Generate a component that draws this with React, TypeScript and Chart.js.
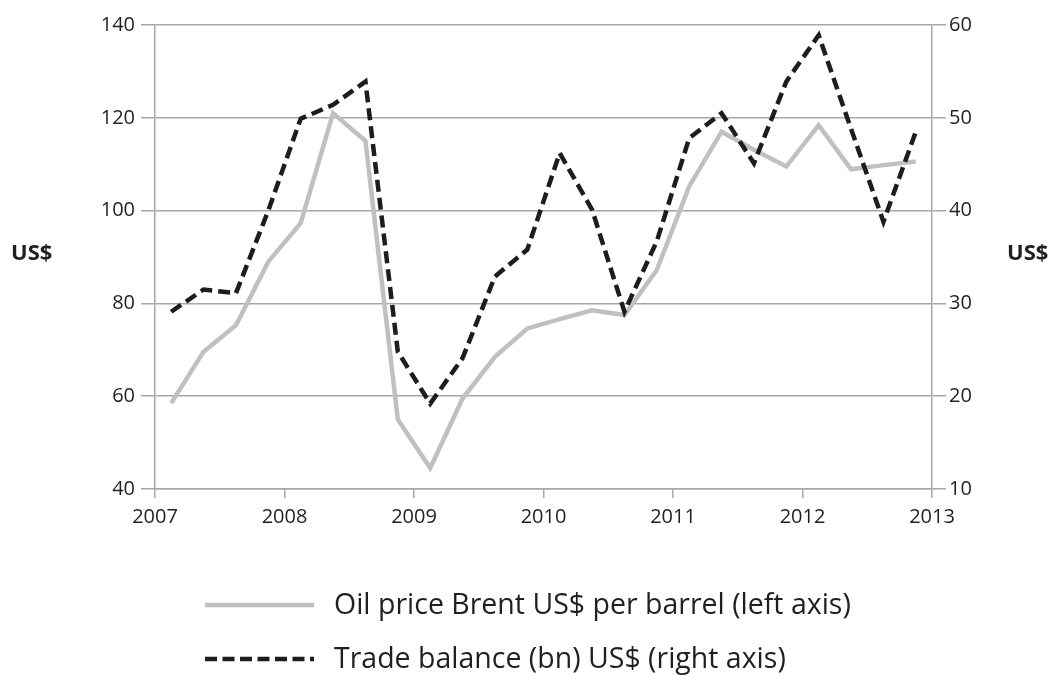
import React, { useEffect, useRef } from "react";
import { Chart, registerables } from "chart.js";

Chart.register(...registerables);

// Quarterly observation times (mid-quarter, in years)
const quarterTimes = [
  2007.125, 2007.375, 2007.625, 2007.875,
  2008.125, 2008.375, 2008.625, 2008.875,
  2009.125, 2009.375, 2009.625, 2009.875,
  2010.125, 2010.375, 2010.625, 2010.875,
  2011.125, 2011.375, 2011.625, 2011.875,
  2012.125, 2012.375, 2012.625, 2012.875,
];

// Oil price Brent US$ per barrel (left axis)
const oilPrice = [
  58.5, 69.6, 75.3, 89.0,
  97.3, 121.0, 115.0, 55.0,
  44.5, 59.5, 68.5, 74.6,
  76.6, 78.5, 77.5, 87.2,
  105.2, 117.0, 113.1, 109.5,
  118.4, 108.9, 109.8, 110.6,
];

// Trade balance (bn) US$ (right axis)
const tradeBalance = [
  29.1, 31.5, 31.1, 40.0,
  49.9, 51.4, 53.9, 24.8,
  19.2, 24.1, 32.9, 35.8,
  46.2, 40.1, 29.1, 36.7,
  47.8, 50.5, 45.1, 53.9,
  58.9, 48.8, 38.8, 48.5,
];

const xTicks = [2007, 2008, 2009, 2010, 2011, 2012, 2013];
const leftTicks = [40, 60, 80, 100, 120, 140];
const rightTicks = [10, 20, 30, 40, 50, 60];

const oilLabel = "Oil price Brent US$ per barrel (left axis)";
const tradeLabel = "Trade balance (bn) US$ (right axis)";
const axisUnit = "US$";

const FONT = "'Open Sans', 'Noto Sans', sans-serif";
const TEXT = "#231f20";
const GRID = "#a7a7a9";
const OIL_COLOR = "#c0c0c2";
const TRADE_COLOR = "#1e1c1d";

const W = 1055;
const CH = 540;
const AREA_LEFT = 155;
const AREA_RIGHT = 932;
const AREA_TOP = 25;
const AREA_BOTTOM = 489;
const TICK_FONT = 20;

export default function App() {
  const ref = useRef<HTMLCanvasElement | null>(null);

  useEffect(() => {
    if (!ref.current) return;
    const chart = new Chart(ref.current, {
      type: "line",
      data: {
        datasets: [
          {
            label: tradeLabel,
            data: quarterTimes.map((t, i) => ({ x: t, y: tradeBalance[i] })),
            yAxisID: "y1",
            borderColor: TRADE_COLOR,
            borderWidth: 4.5,
            borderDash: [12, 6],
            borderJoinStyle: "miter",
            pointRadius: 0,
            tension: 0,
            fill: false,
            order: 0,
          },
          {
            label: oilLabel,
            data: quarterTimes.map((t, i) => ({ x: t, y: oilPrice[i] })),
            yAxisID: "y",
            borderColor: OIL_COLOR,
            borderWidth: 4.5,
            borderJoinStyle: "miter",
            pointRadius: 0,
            tension: 0,
            fill: false,
            order: 1,
          },
        ],
      },
      options: {
        responsive: false,
        animation: false,
        events: [],
        layout: { padding: { top: AREA_TOP, left: 0, right: 0, bottom: 0 } },
        plugins: {
          legend: { display: false },
          tooltip: { enabled: false },
          title: { display: false },
        },
        scales: {
          x: {
            type: "linear",
            min: 2007,
            max: 2013,
            afterBuildTicks: (scale: any) => {
              scale.ticks = xTicks.map((v) => ({ value: v }));
            },
            afterFit: (scale: any) => {
              scale.height = CH - AREA_BOTTOM;
            },
            grid: {
              drawOnChartArea: false,
              drawTicks: true,
              tickLength: 9,
              color: GRID,
              lineWidth: 1.5,
            },
            border: { display: true, color: GRID, width: 1.5 },
            ticks: {
              color: TEXT,
              font: { family: FONT, size: TICK_FONT },
              padding: 7,
              maxRotation: 0,
              autoSkip: false,
              callback: (v: any) => String(v),
            },
          },
          y: {
            type: "linear",
            position: "left",
            min: 40,
            max: 140,
            afterBuildTicks: (scale: any) => {
              scale.ticks = leftTicks.map((v) => ({ value: v }));
            },
            afterFit: (scale: any) => {
              scale.width = AREA_LEFT;
            },
            grid: {
              color: GRID,
              lineWidth: 1.5,
              tickLength: 14,
            },
            border: { display: true, color: GRID, width: 1.5 },
            ticks: {
              color: TEXT,
              font: { family: FONT, size: TICK_FONT },
              padding: 6,
              callback: (v: any) => String(v),
            },
          },
          y1: {
            type: "linear",
            position: "right",
            min: 10,
            max: 60,
            afterBuildTicks: (scale: any) => {
              scale.ticks = rightTicks.map((v) => ({ value: v }));
            },
            afterFit: (scale: any) => {
              scale.width = W - AREA_RIGHT;
            },
            grid: {
              drawOnChartArea: false,
              color: GRID,
              lineWidth: 1.5,
              tickLength: 14,
            },
            border: { display: true, color: GRID, width: 1.5 },
            ticks: {
              color: TEXT,
              font: { family: FONT, size: TICK_FONT },
              padding: 3,
              callback: (v: any) => String(v),
            },
          },
        },
      },
    });
    return () => chart.destroy();
  }, []);

  const unitStyle: React.CSSProperties = {
    position: "absolute",
    top: 236,
    fontFamily: FONT,
    fontWeight: 700,
    fontSize: 22,
    color: TEXT,
    lineHeight: "30px",
  };
  const legendText: React.CSSProperties = {
    position: "absolute",
    left: 334,
    fontFamily: FONT,
    fontSize: 28.5,
    color: TEXT,
    lineHeight: "38px",
    whiteSpace: "nowrap",
  };

  return (
    <div style={{ position: "absolute", left: 0, top: 0, width: W, height: 675, background: "#fff", overflow: "hidden" }}>
      <canvas ref={ref} width={W} height={CH} style={{ position: "absolute", left: 0, top: 0, width: W, height: CH }} />
      <div style={{ ...unitStyle, left: 11 }}>{axisUnit}</div>
      <div style={{ ...unitStyle, left: 1007 }}>{axisUnit}</div>
      <svg style={{ position: "absolute", left: 0, top: 0 }} width={W} height={675} pointerEvents="none">
        <line x1={205} x2={314} y1={605} y2={605} stroke={OIL_COLOR} strokeWidth={4.5} />
        <line x1={205} x2={314} y1={659} y2={659} stroke={TRADE_COLOR} strokeWidth={4.5} strokeDasharray="12 5.5" />
      </svg>
      <div style={{ ...legendText, top: 584 }}>{oilLabel}</div>
      <div style={{ ...legendText, top: 638 }}>{tradeLabel}</div>
    </div>
  );
}
